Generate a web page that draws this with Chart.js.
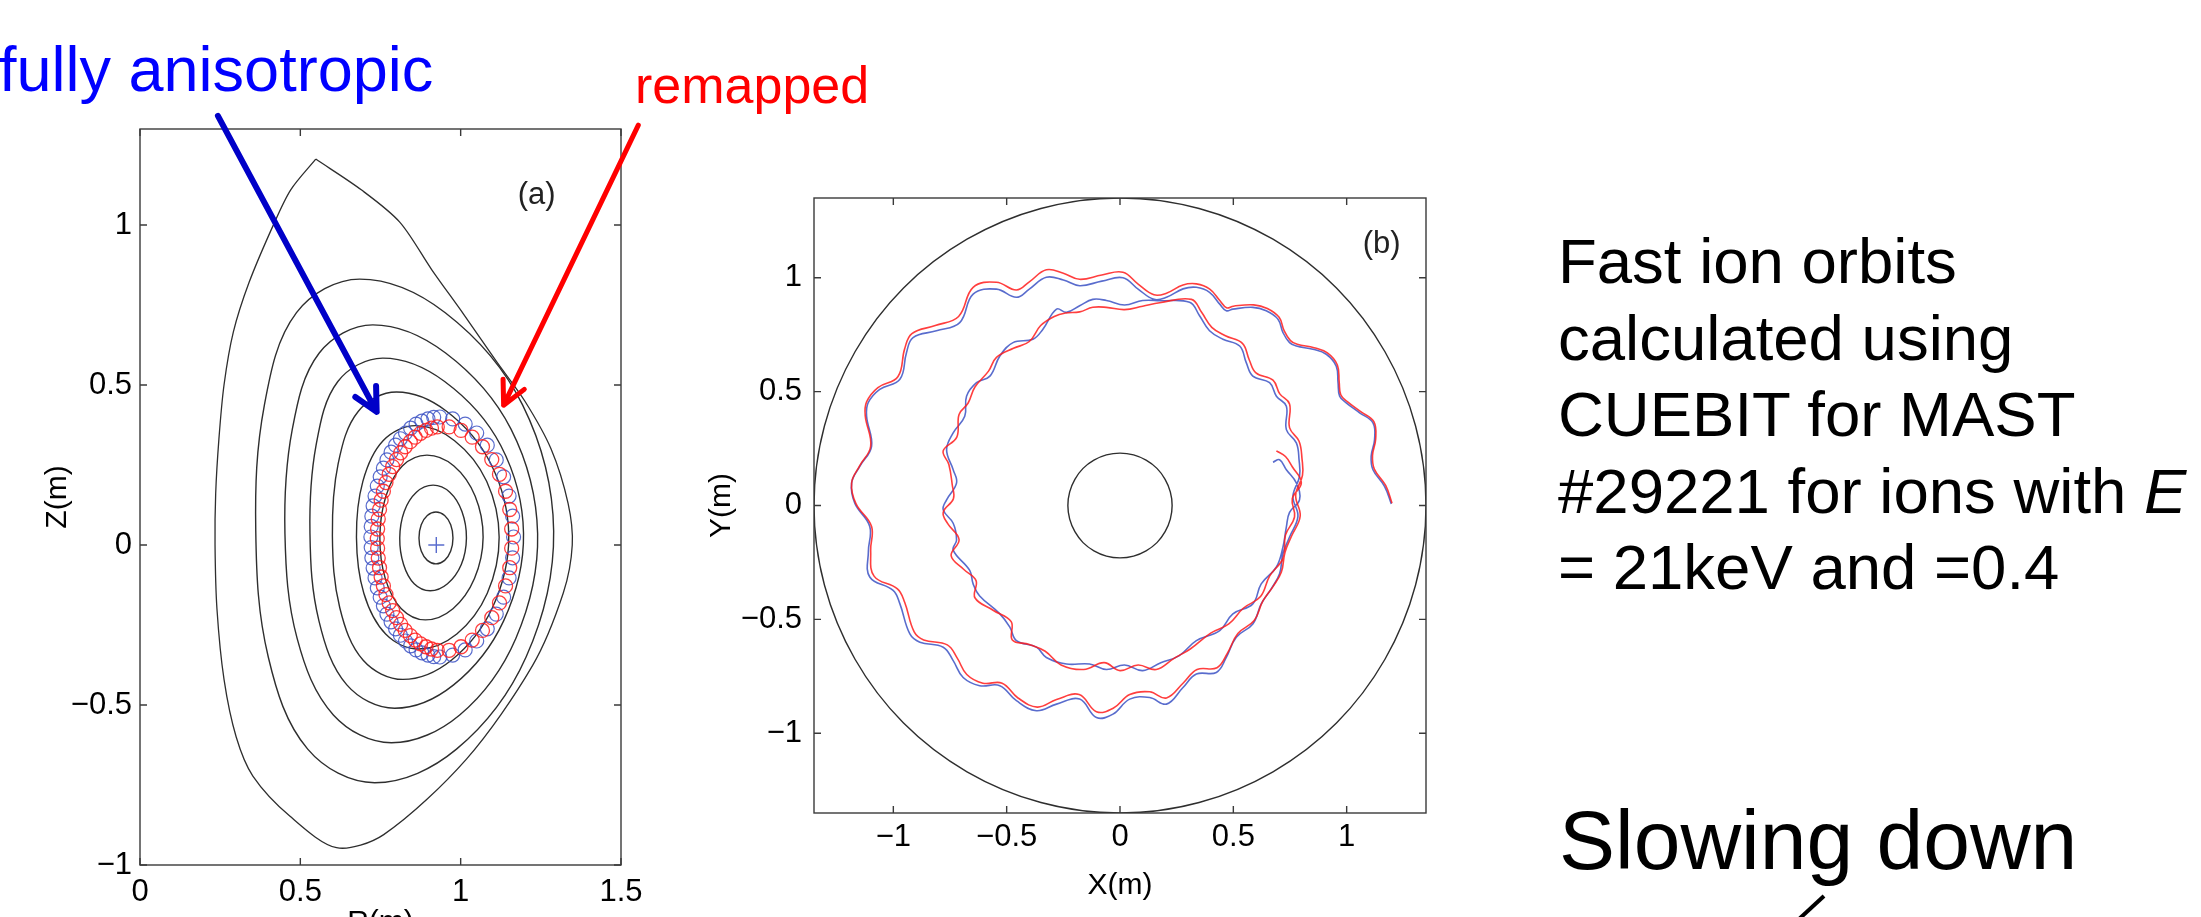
<!DOCTYPE html>
<html>
<head>
<meta charset="utf-8">
<script src="https://cdn.jsdelivr.net/npm/chart.js@4.4.1/dist/chart.umd.min.js"></script>
<style>
html, body { margin: 0; padding: 0; background: #fff; overflow: hidden; }
#page { position: relative; width: 2201px; height: 917px; overflow: hidden; background: #fff;
        font-family: "Liberation Sans", Arial, sans-serif; }
canvas { position: absolute; }
.txt { position: absolute; white-space: nowrap; line-height: 1; }
</style>
</head>
<body>
<div id="page">
  <canvas id="chartA" width="660" height="960" style="left:0px;top:0px"></canvas>
  <canvas id="chartB" width="760" height="817" style="left:700px;top:100px"></canvas>

  <div class="txt" style="left:-1px;top:38px;font-size:63px;color:#0000ff">fully anisotropic</div>
  <div class="txt" style="left:635px;top:59px;font-size:52px;color:#ff0000">remapped</div>
  <div class="txt" style="left:1558px;top:223px;font-size:63.5px;line-height:76.5px;color:#000">
    Fast ion orbits<br>calculated using<br>CUEBIT for MAST<br>#29221 for ions with <i>E</i><br>= 21keV and =0.4
  </div>
  <div class="txt" style="left:1559px;top:798px;font-size:84px;color:#000">Slowing down</div>
  <svg style="position:absolute;left:1780px;top:880px" width="60" height="40">
    <line x1="44" y1="16" x2="18" y2="40" stroke="#000" stroke-width="4"/>
  </svg>
</div>

<script>
// ---- panel (a): poloidal cross-section ----
const tickA_R = [0, 0.5, 1, 1.5];
const tickA_Z = [-1, -0.5, 0, 0.5, 1];

// last closed flux surface, from the X-point round and back
const lcfs = [[0.548,1.206],[0.470,1.110],[0.415,0.998],[0.340,0.820],[0.291,0.665],[0.262,0.500],
  [0.246,0.330],[0.236,0.160],[0.234,0.000],[0.240,-0.200],[0.262,-0.420],[0.300,-0.600],[0.352,-0.722],
  [0.467,-0.847],[0.613,-0.946],[0.760,-0.905],[1.018,-0.669],[1.224,-0.377],[1.320,-0.150],[1.348,0.000],
  [1.335,0.130],[1.282,0.300],[1.200,0.450],[1.112,0.573],[1.010,0.720],[0.910,0.860],[0.810,1.009],
  [0.690,1.110],[0.548,1.206]];

const flux1 = [[0.976,0.022],[0.969,0.063],[0.950,0.092],[0.923,0.103],[0.896,0.092],[0.877,0.063],
  [0.870,0.022],[0.877,-0.019],[0.896,-0.048],[0.923,-0.059],[0.950,-0.048],[0.969,-0.019]];
const flux2 = [[1.018,0.022],[1.004,0.105],[0.966,0.165],[0.914,0.187],[0.862,0.165],[0.824,0.105],
  [0.810,0.022],[0.822,-0.061],[0.855,-0.121],[0.905,-0.143],[0.959,-0.121],[1.002,-0.061]];
const flux3 = [[1.070,0.024],[1.045,0.153],[0.979,0.247],[0.895,0.281],[0.818,0.247],[0.767,0.153],
  [0.748,0.024],[0.765,-0.105],[0.815,-0.199],[0.890,-0.234],[0.976,-0.199],[1.043,-0.105]];
const flux4 = [[1.120,0.024],[1.081,0.199],[0.981,0.326],[0.860,0.373],[0.758,0.326],[0.695,0.199],
  [0.675,0.024],[0.698,-0.151],[0.766,-0.278],[0.870,-0.325],[0.988,-0.278],[1.083,-0.151]];
const flux5 = [[1.150,0.029],[1.094,0.254],[0.956,0.418],[0.800,0.478],[0.681,0.418],[0.618,0.254],
  [0.600,0.029],[0.623,-0.196],[0.696,-0.360],[0.820,-0.420],[0.971,-0.360],[1.099,-0.196]];
const flux6 = [[1.196,0.037],[1.125,0.311],[0.950,0.511],[0.757,0.584],[0.617,0.511],[0.549,0.311],
  [0.530,0.037],[0.558,-0.237],[0.645,-0.437],[0.794,-0.510],[0.978,-0.437],[1.134,-0.237]];
const flux7 = [[1.240,0.035],[1.157,0.362],[0.953,0.600],[0.726,0.688],[0.559,0.600],[0.475,0.362],
  [0.452,0.035],[0.490,-0.292],[0.603,-0.531],[0.784,-0.618],[0.997,-0.531],[1.172,-0.292]];
const flux8 = [[1.290,0.044],[1.193,0.438],[0.952,0.726],[0.685,0.831],[0.488,0.726],[0.388,0.438],
  [0.361,0.044],[0.400,-0.350],[0.523,-0.638],[0.732,-0.743],[0.987,-0.638],[1.204,-0.350]];

const axisCentre = [[0.924, 0.0]];

// gyro-loop centres of the two orbits (denser on the inboard side)
const loopsBlue = [[1.165,0.025],[1.162,0.090],[1.151,0.153],[1.134,0.213],[1.111,0.266],[1.083,0.312],
  [1.050,0.350],[1.014,0.378],[0.975,0.394],[0.935,0.400],[0.916,0.399],[0.898,0.394],[0.879,0.387],
  [0.861,0.378],[0.844,0.365],[0.828,0.350],[0.812,0.332],[0.797,0.312],[0.783,0.290],[0.770,0.266],
  [0.759,0.240],[0.749,0.213],[0.740,0.184],[0.733,0.153],[0.727,0.122],[0.723,0.090],[0.721,0.058],
  [0.720,0.025],[0.721,-0.008],[0.723,-0.040],[0.727,-0.072],[0.733,-0.103],[0.740,-0.134],[0.749,-0.163],
  [0.759,-0.190],[0.770,-0.216],[0.783,-0.240],[0.797,-0.262],[0.812,-0.282],[0.828,-0.300],[0.844,-0.315],
  [0.861,-0.328],[0.879,-0.337],[0.898,-0.344],[0.916,-0.349],[0.935,-0.350],[0.975,-0.344],[1.014,-0.328],
  [1.050,-0.300],[1.083,-0.262],[1.111,-0.216],[1.134,-0.163],[1.151,-0.103],[1.162,-0.040]];
const loopsRed = [[1.159,0.050],[1.153,0.111],[1.140,0.168],[1.121,0.221],[1.097,0.267],[1.068,0.307],
  [1.036,0.337],[1.001,0.358],[0.964,0.369],[0.927,0.369],[0.909,0.365],[0.892,0.358],[0.875,0.349],
  [0.858,0.337],[0.843,0.323],[0.827,0.307],[0.813,0.288],[0.800,0.267],[0.788,0.245],[0.777,0.221],
  [0.767,0.195],[0.759,0.168],[0.752,0.140],[0.747,0.111],[0.743,0.081],[0.741,0.050],[0.740,0.020],
  [0.741,-0.010],[0.743,-0.041],[0.747,-0.071],[0.752,-0.100],[0.759,-0.128],[0.767,-0.155],[0.777,-0.181],
  [0.788,-0.205],[0.800,-0.227],[0.813,-0.248],[0.827,-0.267],[0.843,-0.283],[0.858,-0.297],[0.875,-0.309],
  [0.892,-0.318],[0.909,-0.325],[0.927,-0.329],[0.964,-0.329],[1.001,-0.318],[1.036,-0.297],[1.068,-0.267],
  [1.097,-0.227],[1.121,-0.181],[1.140,-0.128],[1.153,-0.071],[1.159,-0.010]];

// ---- panel (b): top view ----
const tickB = [-1, -0.5, 0, 0.5, 1];

const wallOuter = [[1.35,0],[1.304,0.349],[1.169,0.675],[0.955,0.955],[0.675,1.169],[0.349,1.304],
  [0,1.35],[-0.349,1.304],[-0.675,1.169],[-0.955,0.955],[-1.169,0.675],[-1.304,0.349],[-1.35,0],
  [-1.304,-0.349],[-1.169,-0.675],[-0.955,-0.955],[-0.675,-1.169],[-0.349,-1.304],[0,-1.35],
  [0.349,-1.304],[0.675,-1.169],[0.955,-0.955],[1.169,-0.675],[1.304,-0.349]];
const wallInner = [[0.23,0],[0.222,0.06],[0.199,0.115],[0.163,0.163],[0.115,0.199],[0.06,0.222],
  [0,0.23],[-0.06,0.222],[-0.115,0.199],[-0.163,0.163],[-0.199,0.115],[-0.222,0.06],[-0.23,0],
  [-0.222,-0.06],[-0.199,-0.115],[-0.163,-0.163],[-0.115,-0.199],[-0.06,-0.222],[0,-0.23],
  [0.06,-0.222],[0.115,-0.199],[0.163,-0.163],[0.199,-0.115],[0.222,-0.06]];

const orbitBlue = [[1.197,0.007],[1.167,0.084],[1.116,0.157],[1.108,0.216],[1.123,0.289],[1.116,0.363],
  [1.057,0.407],[0.998,0.451],[0.969,0.480],[0.962,0.539],[0.954,0.612],[0.910,0.664],[0.851,0.686],
  [0.778,0.700],[0.748,0.715],[0.719,0.759],[0.697,0.818],[0.645,0.855],[0.586,0.870],[0.498,0.862],
  [0.469,0.855],[0.440,0.884],[0.395,0.936],[0.337,0.958],[0.278,0.951],[0.205,0.914],[0.150,0.905],
  [0.080,0.950],[0.013,1.000],[-0.080,0.985],[-0.178,0.965],[-0.250,0.990],[-0.325,1.002],[-0.400,0.950],
  [-0.457,0.914],[-0.545,0.950],[-0.648,0.928],[-0.707,0.803],[-0.810,0.767],[-0.913,0.737],[-0.942,0.671],
  [-0.971,0.554],[-1.060,0.510],[-1.111,0.451],[-1.118,0.392],[-1.096,0.260],[-1.148,0.172],[-1.184,0.099],
  [-1.170,0.010],[-1.104,-0.092],[-1.110,-0.200],[-1.104,-0.314],[-1.001,-0.373],[-0.971,-0.432],
  [-0.927,-0.564],[-0.883,-0.600],[-0.780,-0.622],[-0.736,-0.681],[-0.692,-0.755],[-0.619,-0.791],
  [-0.530,-0.791],[-0.457,-0.857],[-0.369,-0.901],[-0.280,-0.872],[-0.178,-0.850],[-0.104,-0.931],
  [-0.031,-0.916],[0.043,-0.850],[0.131,-0.843],[0.205,-0.872],[0.278,-0.799],[0.337,-0.740],[0.425,-0.733],
  [0.469,-0.667],[0.513,-0.578],[0.586,-0.520],[0.623,-0.432],[0.667,-0.366],[0.704,-0.300],[0.719,-0.211],
  [0.748,-0.138],[0.785,-0.048],[0.763,0.040],[0.792,0.128],[0.790,0.200],[0.778,0.275],[0.734,0.333],
  [0.734,0.436],[0.690,0.480],[0.660,0.539],[0.586,0.568],[0.557,0.627],[0.528,0.700],[0.454,0.730],
  [0.395,0.767],[0.351,0.833],[0.307,0.892],[0.175,0.899],[0.100,0.900],[0.020,0.880],[-0.060,0.900],
  [-0.120,0.905],[-0.178,0.877],[-0.236,0.848],[-0.280,0.862],[-0.340,0.774],[-0.384,0.730],[-0.472,0.715],
  [-0.530,0.656],[-0.574,0.568],[-0.633,0.539],[-0.677,0.480],[-0.685,0.392],[-0.736,0.319],[-0.765,0.245],
  [-0.736,0.157],[-0.721,0.099],[-0.765,0.025],[-0.780,-0.019],[-0.736,-0.078],[-0.721,-0.151],
  [-0.736,-0.196],[-0.663,-0.285],[-0.648,-0.344],[-0.619,-0.397],[-0.530,-0.476],[-0.486,-0.534],
  [-0.457,-0.593],[-0.369,-0.622],[-0.325,-0.667],[-0.236,-0.696],[-0.134,-0.696],[-0.060,-0.720],
  [0.020,-0.700],[0.100,-0.725],[0.180,-0.690],[0.260,-0.660],[0.337,-0.593],[0.440,-0.549],[0.498,-0.476],
  [0.586,-0.432],[0.623,-0.344],[0.690,-0.270],[0.719,-0.182],[0.734,-0.094],[0.748,-0.030],[0.792,0.025],
  [0.778,0.099],[0.734,0.157],[0.704,0.201],[0.675,0.190]];

const orbitRed = [[1.200,0.010],[1.172,0.088],[1.122,0.160],[1.114,0.220],[1.128,0.292],[1.120,0.368],
  [1.062,0.412],[1.003,0.456],[0.974,0.486],[0.967,0.543],[0.959,0.617],[0.915,0.670],[0.856,0.693],
  [0.782,0.708],[0.752,0.724],[0.724,0.768],[0.702,0.826],[0.650,0.865],[0.590,0.881],[0.500,0.875],
  [0.470,0.868],[0.442,0.898],[0.396,0.950],[0.337,0.973],[0.278,0.968],[0.205,0.932],[0.150,0.925],
  [0.080,0.972],[0.013,1.024],[-0.080,1.012],[-0.178,0.993],[-0.250,1.020],[-0.325,1.035],[-0.400,0.982],
  [-0.457,0.946],[-0.545,0.980],[-0.648,0.958],[-0.712,0.830],[-0.815,0.790],[-0.918,0.755],[-0.950,0.688],
  [-0.980,0.565],[-1.068,0.518],[-1.118,0.455],[-1.124,0.394],[-1.100,0.260],[-1.150,0.172],[-1.184,0.099],
  [-1.165,0.008],[-1.096,-0.092],[-1.100,-0.198],[-1.085,-0.310],[-0.982,-0.366],[-0.950,-0.425],
  [-0.908,-0.555],[-0.866,-0.590],[-0.762,-0.612],[-0.718,-0.670],[-0.676,-0.742],[-0.605,-0.780],
  [-0.520,-0.780],[-0.450,-0.845],[-0.365,-0.885],[-0.280,-0.852],[-0.180,-0.830],[-0.104,-0.905],
  [-0.030,-0.890],[0.043,-0.830],[0.131,-0.818],[0.205,-0.845],[0.280,-0.778],[0.340,-0.720],[0.428,-0.712],
  [0.474,-0.648],[0.520,-0.562],[0.592,-0.505],[0.630,-0.420],[0.675,-0.356],[0.712,-0.292],[0.728,-0.205],
  [0.757,-0.134],[0.795,-0.046],[0.775,0.045],[0.805,0.132],[0.803,0.205],[0.790,0.282],[0.748,0.342],
  [0.748,0.446],[0.705,0.490],[0.675,0.550],[0.600,0.582],[0.570,0.640],[0.540,0.712],[0.465,0.745],
  [0.405,0.782],[0.360,0.848],[0.315,0.905],[0.175,0.890],[0.100,0.875],[0.020,0.860],[-0.060,0.870],
  [-0.120,0.870],[-0.178,0.850],[-0.240,0.845],[-0.290,0.830],[-0.350,0.790],[-0.400,0.720],[-0.470,0.690],
  [-0.545,0.650],[-0.580,0.590],[-0.640,0.520],[-0.670,0.450],[-0.710,0.400],[-0.720,0.300],[-0.780,0.240],
  [-0.755,0.180],[-0.740,0.090],[-0.735,0.030],[-0.780,-0.030],[-0.760,-0.080],[-0.710,-0.150],
  [-0.745,-0.220],[-0.690,-0.280],[-0.635,-0.330],[-0.640,-0.405],[-0.560,-0.460],[-0.480,-0.510],
  [-0.475,-0.590],[-0.400,-0.610],[-0.330,-0.640],[-0.260,-0.700],[-0.160,-0.720],[-0.070,-0.690],
  [0.000,-0.725],[0.080,-0.700],[0.160,-0.720],[0.240,-0.670],[0.310,-0.630],[0.400,-0.560],[0.480,-0.520],
  [0.545,-0.450],[0.620,-0.400],[0.660,-0.310],[0.720,-0.230],[0.730,-0.130],[0.770,-0.050],[0.760,0.030],
  [0.800,0.100],[0.760,0.170],[0.730,0.215],[0.690,0.240]];

// ---- helpers ----
const BLACK = '#2e2e2e';
const BLUE = 'rgba(60,82,196,0.85)';
const RED = 'rgba(255,28,28,0.85)';
const FONT = '"Liberation Sans", Arial, sans-serif';
Chart.defaults.font.family = FONT;
Chart.defaults.color = '#000';

function pts(arr) {
    return arr.map(([x, y]) => ({x, y}));
}

// closed curve: wrap one point either side so the spline has no seam, hide the extra pieces
function closedLine(arr, color, width, tension) {
    const n = arr.length;
    return {
        data: pts([arr[n - 1], ...arr, arr[0], arr[1]]),
        showLine: true, pointRadius: 0, pointHoverRadius: 0,
        borderColor: color, borderWidth: width, tension: tension,
        segment: {
            borderColor: c => (c.p0DataIndex === 0 || c.p0DataIndex === n + 1) ? 'rgba(0,0,0,0)' : color
        }
    };
}

function openLine(arr, color, width, tension) {
    return {
        data: pts(arr), showLine: true, pointRadius: 0, pointHoverRadius: 0,
        borderColor: color, borderWidth: width, tension: tension
    };
}

function fmt(v) {
    return String(v).replace('-', '\u2212');
}

// MATLAB style box with inward ticks on all four sides, plus the panel tag
const frame = {
    id: 'frame',
    afterDatasetsDraw(chart, args, opts) {
        const {ctx, chartArea: a, scales: {x, y}} = chart;
        ctx.save();
        ctx.strokeStyle = '#3a3a3a';
        ctx.lineWidth = 1.4;
        ctx.strokeRect(a.left, a.top, a.right - a.left, a.bottom - a.top);
        ctx.beginPath();
        x.ticks.forEach(t => {
            const px = x.getPixelForValue(t.value);
            ctx.moveTo(px, a.bottom); ctx.lineTo(px, a.bottom - 7);
            ctx.moveTo(px, a.top);    ctx.lineTo(px, a.top + 7);
        });
        y.ticks.forEach(t => {
            const py = y.getPixelForValue(t.value);
            ctx.moveTo(a.left, py);  ctx.lineTo(a.left + 7, py);
            ctx.moveTo(a.right, py); ctx.lineTo(a.right - 7, py);
        });
        ctx.stroke();
        ctx.fillStyle = '#222';
        ctx.font = '31px ' + FONT;
        ctx.textAlign = 'center';
        ctx.textBaseline = 'middle';
        ctx.fillText(opts.label, x.getPixelForValue(opts.at[0]), y.getPixelForValue(opts.at[1]));
        ctx.restore();
    }
};

const arrows = {
    id: 'arrows',
    afterDraw(chart, args, opts) {
        const {ctx, scales: {x, y}} = chart;
        ctx.save();
        opts.list.forEach(a => {
            const x0 = x.getPixelForValue(a.from[0]), y0 = y.getPixelForValue(a.from[1]);
            const x1 = x.getPixelForValue(a.to[0]),   y1 = y.getPixelForValue(a.to[1]);
            const back = Math.atan2(y0 - y1, x0 - x1);
            ctx.strokeStyle = a.color;
            ctx.lineWidth = a.width;
            ctx.lineCap = 'round';
            ctx.lineJoin = 'round';
            ctx.beginPath();
            ctx.moveTo(x0, y0);
            ctx.lineTo(x1, y1);
            ctx.moveTo(x1 + 26 * Math.cos(back + 0.47), y1 + 26 * Math.sin(back + 0.47));
            ctx.lineTo(x1, y1);
            ctx.lineTo(x1 + 26 * Math.cos(back - 0.47), y1 + 26 * Math.sin(back - 0.47));
            ctx.stroke();
        });
        ctx.restore();
    }
};

function axisOpts(lo, hi, ticks, size, tickPad, title, titlePad) {
    return {
        type: 'linear', min: lo, max: hi,
        afterBuildTicks: s => { s.ticks = ticks.map(v => ({value: v})); },
        afterFit: s => { if (s.isHorizontal()) s.height = size; else s.width = size; },
        grid: {display: false, drawTicks: false},
        border: {display: false},
        ticks: {
            autoSkip: false, maxRotation: 0, padding: tickPad,
            font: {size: 31}, color: '#000',
            callback: v => fmt(v)
        },
        title: {display: true, text: title, font: {size: 30}, color: '#000', padding: titlePad}
    };
}

const commonOpts = {
    responsive: false,
    animation: false,
    events: [],
    plugins: {legend: {display: false}, tooltip: {enabled: false}}
};

// ---- chart (a) ----
new Chart(document.getElementById('chartA'), {
    type: 'scatter',
    data: {
        datasets: [
            {data: pts(axisCentre), pointStyle: 'cross', pointRadius: 8, borderColor: BLUE, pointBorderWidth: 1.4},
            {data: pts(loopsRed), pointStyle: 'circle', pointRadius: 7, backgroundColor: 'rgba(0,0,0,0)',
             borderColor: RED, pointBorderWidth: 1.3},
            {data: pts(loopsBlue), pointStyle: 'circle', pointRadius: 7, backgroundColor: 'rgba(0,0,0,0)',
             borderColor: BLUE, pointBorderWidth: 1.2},
            openLine(lcfs, BLACK, 1.3, 0.3),
            closedLine(flux1, BLACK, 1.4, 0.36),
            closedLine(flux2, BLACK, 1.4, 0.36),
            closedLine(flux3, BLACK, 1.4, 0.36),
            closedLine(flux4, BLACK, 1.4, 0.36),
            closedLine(flux5, BLACK, 1.4, 0.36),
            closedLine(flux6, BLACK, 1.4, 0.36),
            closedLine(flux7, BLACK, 1.4, 0.36),
            closedLine(flux8, BLACK, 1.4, 0.36)
        ]
    },
    options: {
        ...commonOpts,
        layout: {padding: {left: 0, top: 129, right: 39, bottom: 0}},
        scales: {
            x: axisOpts(0, 1.5, tickA_R, 95, 9, 'R(m)', {top: 0, bottom: 19}),
            y: axisOpts(-1, 1.3, tickA_Z, 140, 8, 'Z(m)', {top: 40, bottom: 0})
        },
        plugins: {
            ...commonOpts.plugins,
            frame: {label: '(a)', at: [1.237, 1.091]},
            arrows: {list: [
                {from: [0.243, 1.341], to: [0.738, 0.416], color: '#0000c8', width: 6},
                {from: [1.554, 1.312], to: [1.134, 0.437], color: '#ff0000', width: 5}
            ]}
        }
    },
    plugins: [frame, arrows]
});

// ---- chart (b) ----
new Chart(document.getElementById('chartB'), {
    type: 'scatter',
    data: {
        datasets: [
            openLine(orbitRed, RED, 1.6, 0.4),
            openLine(orbitBlue, BLUE, 1.6, 0.4),
            closedLine(wallInner, BLACK, 1.4, 0.34),
            closedLine(wallOuter, BLACK, 1.4, 0.34)
        ]
    },
    options: {
        ...commonOpts,
        layout: {padding: {left: 0, top: 98, right: 34, bottom: 0}},
        scales: {
            x: axisOpts(-1.35, 1.35, tickB, 104, 6, 'X(m)', {top: 0, bottom: 13}),
            y: axisOpts(-1.35, 1.35, tickB, 114, 12, 'Y(m)', {top: 4, bottom: 0})
        },
        plugins: {
            ...commonOpts.plugins,
            frame: {label: '(b)', at: [1.154, 1.144]}
        }
    },
    plugins: [frame]
});
</script>
</body>
</html>
